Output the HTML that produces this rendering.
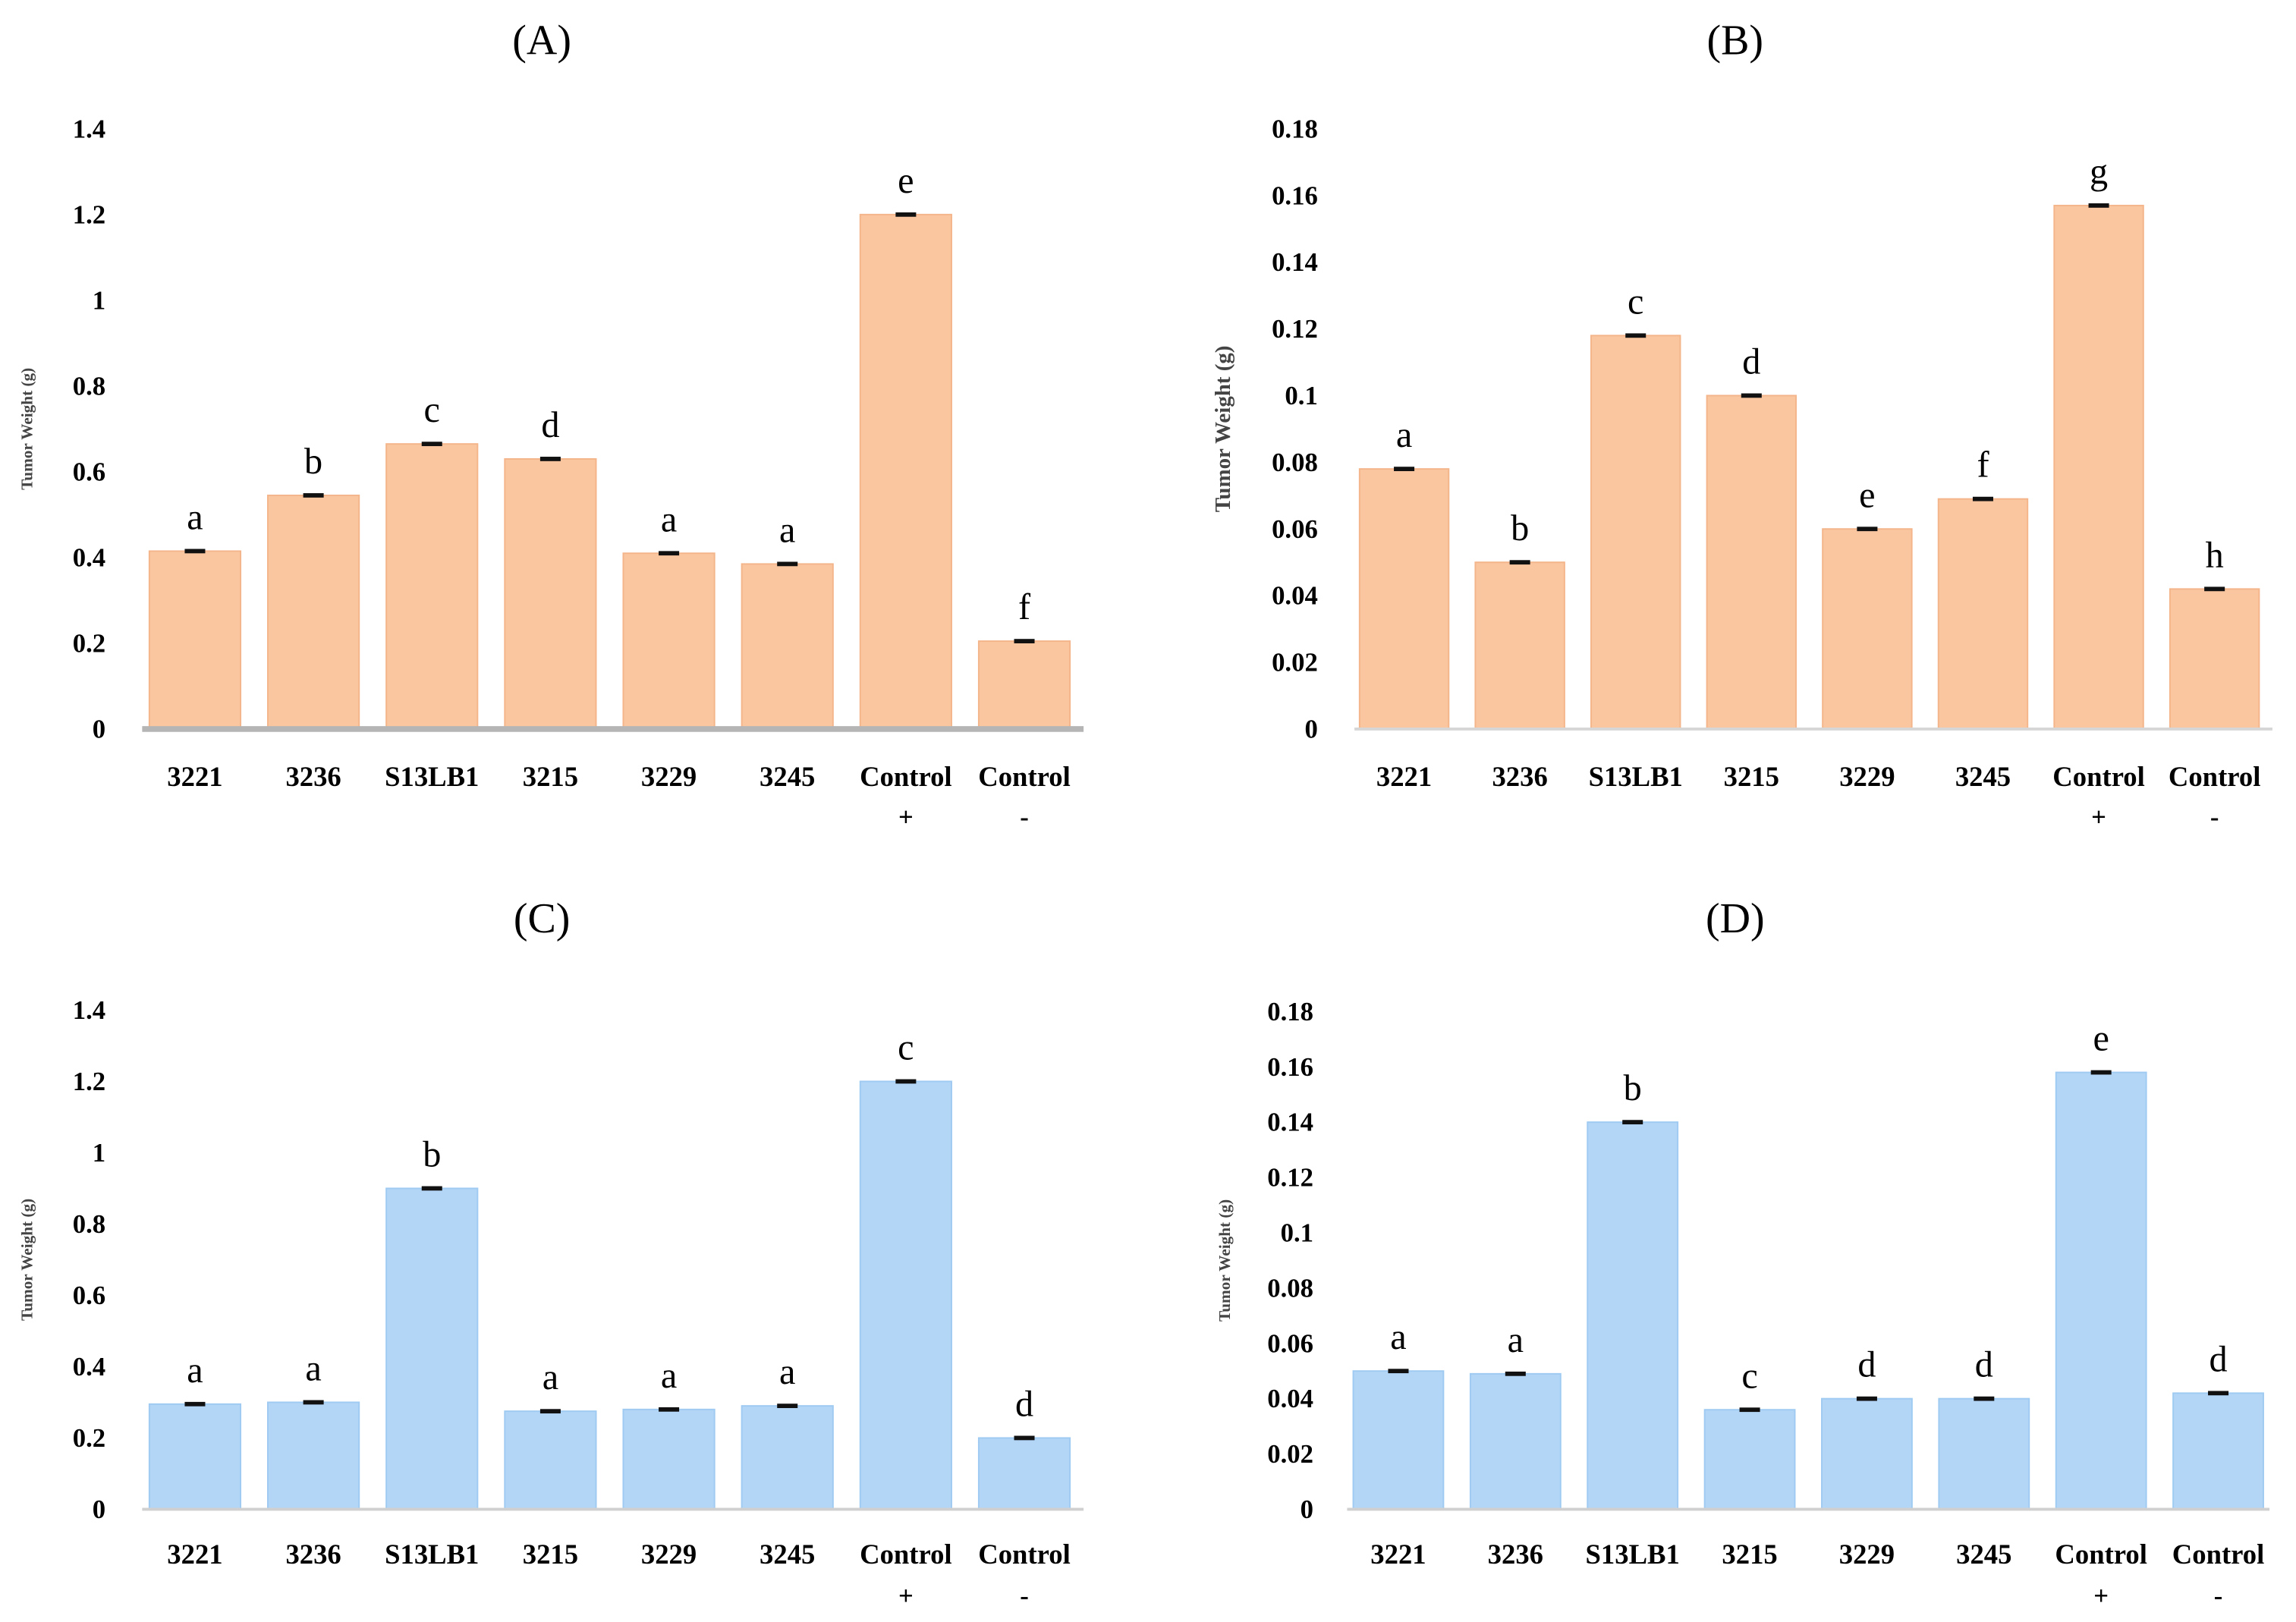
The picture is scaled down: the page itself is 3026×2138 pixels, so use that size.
<!DOCTYPE html>
<html><head><meta charset="utf-8"><style>
html,body{margin:0;padding:0;background:#fff}
svg{display:block}
text{font-family:"Liberation Serif",serif}
</style></head><body>
<svg id="fig" width="3026" height="2138" viewBox="0 0 1568 1108" xmlns="http://www.w3.org/2000/svg"></svg>
<script>
const categories = ["3221","3236","S13LB1","3215","3229","3245","Control","Control"];
const subLabels = ["","","","","","","+","-"];
const valuesA = [0.415,0.545,0.665,0.63,0.41,0.385,1.2,0.205];
const lettersA = ["a","b","c","d","a","a","e","f"];
const valuesB = [0.078,0.05,0.118,0.1,0.06,0.069,0.157,0.042];
const lettersB = ["a","b","c","d","e","f","g","h"];
const valuesC = [0.295,0.3,0.9,0.275,0.28,0.29,1.2,0.2];
const lettersC = ["a","a","b","a","a","a","c","d"];
const valuesD = [0.05,0.049,0.14,0.036,0.04,0.04,0.158,0.042];
const lettersD = ["a","a","b","c","d","d","e","d"];
const ticksBig = [0,0.2,0.4,0.6,0.8,1,1.2,1.4];
const ticksSmall = [0,0.02,0.04,0.06,0.08,0.1,0.12,0.14,0.16,0.18];

const NS="http://www.w3.org/2000/svg";
const svg=document.getElementById('fig');
function mk(tag,attrs,parent){const e=document.createElementNS(NS,tag);for(const k in attrs)e.setAttribute(k,attrs[k]);(parent||svg).appendChild(e);return e;}

const panels=[
 {id:"a",title:"(A)",tx:370,ty:27,vals:valuesA,let:lettersA,ticks:ticksBig,max:1.4,top:88,bot:498,x0:92.6,x1:740,ax0:97,ax1:740,labX:72,ytX:22,fill:"#f9c6a0",stroke:"#f4b58a",axis:"#b5b5b5",axisW:4,labY:530,subY:558,ytSize:11},
 {id:"b",title:"(B)",tx:1185,ty:27,vals:valuesB,let:lettersB,ticks:ticksSmall,max:0.18,top:88,bot:498,x0:919.4,x1:1552,ax0:925,ax1:1552,labX:900,ytX:840,fill:"#f9c6a0",stroke:"#f4b58a",axis:"#d6d6d6",axisW:2,labY:530,subY:558,ytSize:15},
 {id:"c",title:"(C)",tx:370,ty:627,vals:valuesC,let:lettersC,ticks:ticksBig,max:1.4,top:690,bot:1031,x0:92.6,x1:740,ax0:97,ax1:740,labX:72,ytX:22,fill:"#b3d6f7",stroke:"#9fcaf2",axis:"#d0d0d0",axisW:2,labY:1061,subY:1090,ytSize:11},
 {id:"d",title:"(D)",tx:1185,ty:627,vals:valuesD,let:lettersD,ticks:ticksSmall,max:0.18,top:691,bot:1031,x0:915,x1:1555,ax0:920,ax1:1550,labX:897,ytX:840,fill:"#b3d6f7",stroke:"#9fcaf2",axis:"#d0d0d0",axisW:2,labY:1061,subY:1090,ytSize:11}
];

panels.forEach(p=>{
  const g=mk('g',{});
  
  
  const y=v=>p.bot-(v/p.max)*(p.bot-p.top);
  const step=(p.x1-p.x0)/categories.length;
  const cx=i=>p.x0+step*(i+0.5);
  const bw=step*0.77;
  const t=mk('text',{x:p.tx,y:p.ty+10,'text-anchor':'middle','font-size':29},g);
  t.textContent=p.title;
  
  
  p.ticks.forEach(v=>{
    const tl=mk('text',{x:p.labX,y:y(v)+6,'text-anchor':'end','font-size':18,'font-weight':'bold'},g);
    tl.textContent=String(v);
    
    
  });
  const mid=(p.top+p.bot)/2;
  const yt=mk('text',{x:p.ytX,y:mid,'text-anchor':'middle','font-size':p.ytSize,'font-weight':'bold',fill:'#444',transform:`rotate(-90 ${p.ytX} ${mid})`},g);
  yt.textContent="Tumor Weight (g)";
  
  
  p.vals.forEach((v,i)=>{
    const r=mk('rect',{x:cx(i)-bw/2,y:y(v),width:bw,height:p.bot-y(v),fill:p.fill,stroke:p.stroke,'stroke-width':1},g);
    
    
    const e=mk('rect',{x:cx(i)-7,y:y(v)-1.5,width:14,height:3,fill:'#111'},g);
    
    
    const l=mk('text',{x:cx(i),y:y(v)-15,'text-anchor':'middle','font-size':25},g);
    l.textContent=p.let[i];
    
    
    const xl=mk('text',{x:cx(i),y:p.labY+7,'text-anchor':'middle','font-size':19,'font-weight':'bold'},g);
    xl.textContent=categories[i];
    
    
    if(subLabels[i]){
      const s=mk('text',{x:cx(i),y:p.subY+6,'text-anchor':'middle','font-size':18,'font-weight':'bold'},g);
      s.textContent=subLabels[i];
      
      
    }
  });
  const ax=mk('line',{x1:p.ax0,x2:p.ax1,y1:p.bot,y2:p.bot,stroke:p.axis,'stroke-width':p.axisW},g);
  
  
});
</script>
</body></html>
